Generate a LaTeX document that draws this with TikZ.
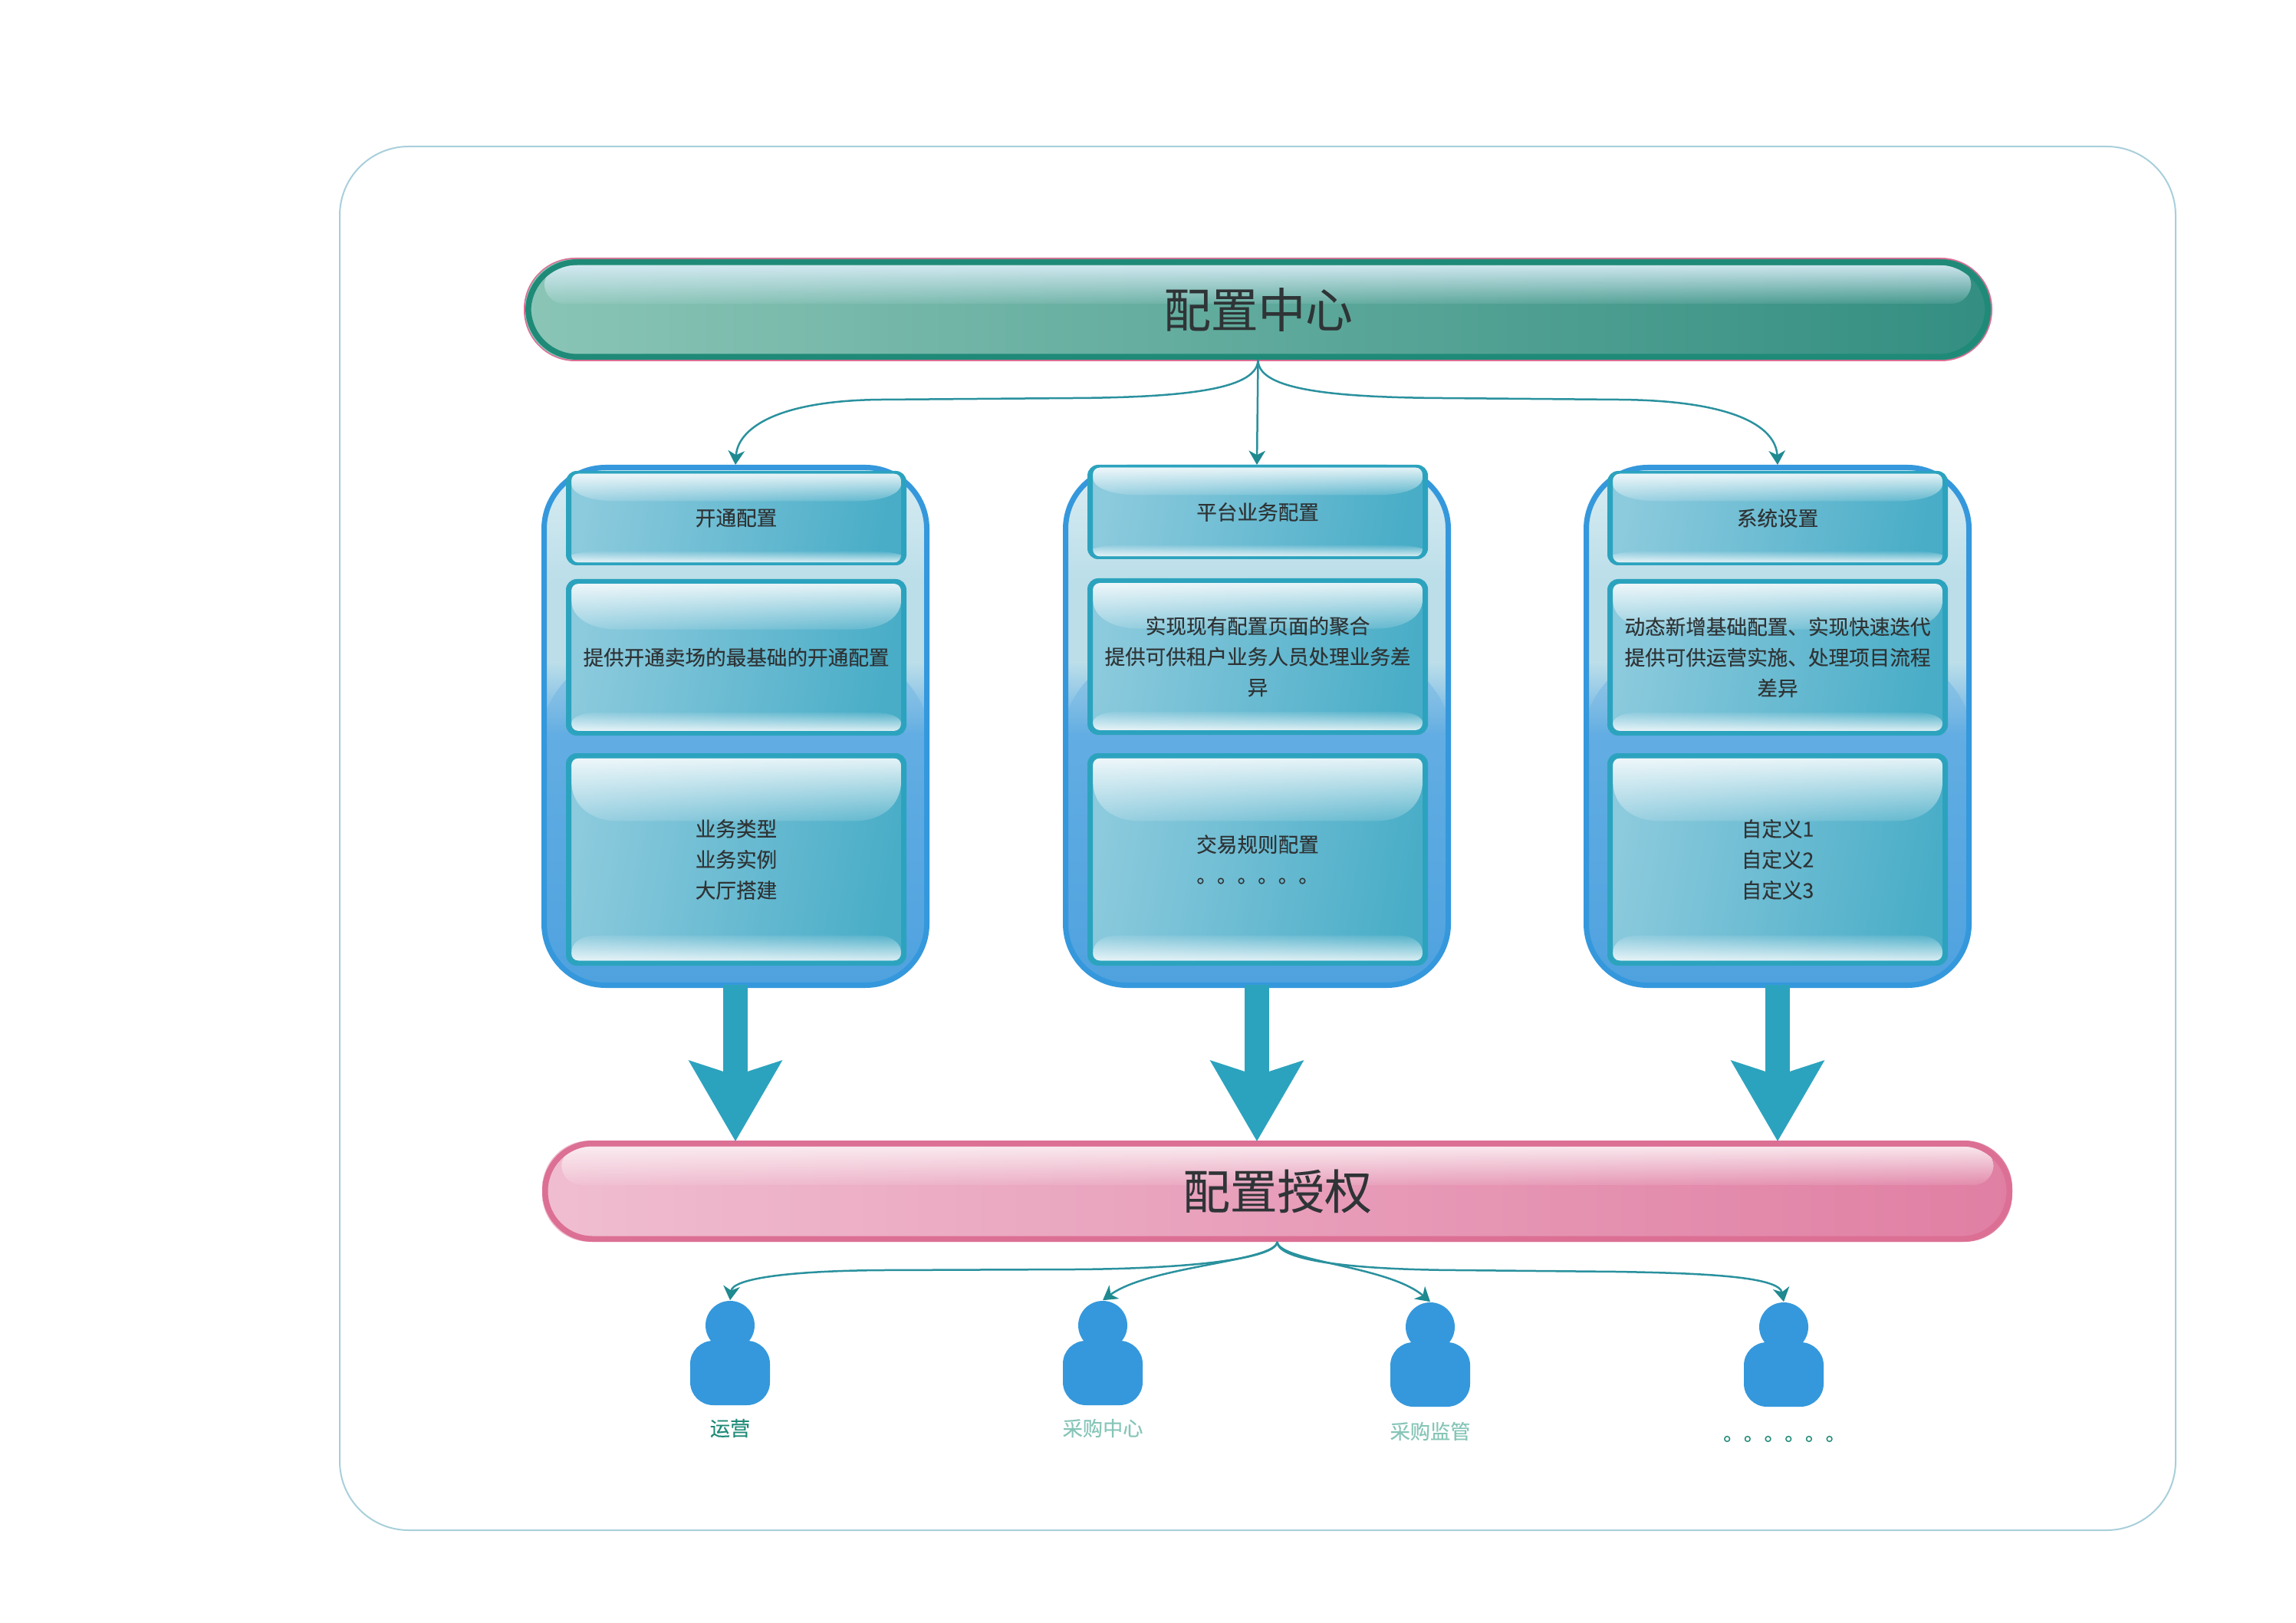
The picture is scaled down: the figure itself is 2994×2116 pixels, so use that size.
\documentclass[tikz,border=0pt]{standalone}
\usepackage{fontspec}
\setmainfont{Noto Sans CJK SC}
\newfontfamily\boxfont[FakeBold=0.2]{Noto Sans CJK SC}
\newfontfamily\titlefont[FakeBold=0.12]{Noto Sans CJK SC}
\usetikzlibrary{arrows.meta,fadings}
\newdimen\pxu \pxu=0.25pt
\definecolor{textdark}{HTML}{2F3436}
\definecolor{framecol}{HTML}{A8CFDA}
\definecolor{boxstroke}{HTML}{2CA3BE}
\definecolor{boxleft}{HTML}{8CCADD}
\definecolor{boxright}{HTML}{49ADC7}
\definecolor{groupstroke}{HTML}{3598DC}
\definecolor{panelA}{HTML}{DAEDF3}
\definecolor{panelB}{HTML}{BBDEE9}
\definecolor{panelC}{HTML}{62ADE3}
\definecolor{panelD}{HTML}{4FA2DF}
\definecolor{linkcol}{HTML}{2A919E}
\definecolor{tipcol}{HTML}{1F8A90}
\definecolor{greenstroke}{HTML}{1F8A78}
\definecolor{greenleft}{HTML}{8AC5B6}
\definecolor{greenright}{HTML}{338E81}
\definecolor{pinkstroke}{HTML}{DC6F94}
\definecolor{pinkleft}{HTML}{F0BDD0}
\definecolor{pinkright}{HTML}{E07FA3}
\definecolor{softlabel}{HTML}{86C5B7}
\definecolor{glossblue}{HTML}{D8ECF6}
\definecolor{glosspink}{HTML}{FBEFF3}
\tikzfading[name=glossdown, top color=transparent!15, bottom color=transparent!88]
\tikzfading[name=glossup, bottom color=transparent!20, top color=transparent!92]
\tikzfading[name=barglossdown, top color=transparent!8, bottom color=transparent!90]
\tikzfading[name=arcdown, top color=transparent!45, bottom color=transparent!100]
\tikzset{
  frame/.style={draw=framecol,line width=2\pxu,rounded corners=90\pxu,inner sep=0pt},
  glass/.style={inner sep=0pt,align=center,text=textdark,font=\boxfont\fontsize{6.65pt}{10pt}\selectfont},
  glassfill/.style={left color=boxleft,right color=boxright,shading angle=80},
  grouppanel/.style={draw=groupstroke,line width=7\pxu,rounded corners=80\pxu,inner sep=0pt},
  barnode/.style={line width=7.5\pxu,inner sep=0pt,text=textdark,font=\titlefont\fontsize{15.4pt}{18pt}\selectfont},
  link/.style={draw=linkcol,line width=2.5\pxu,-{Stealth[length=4.6pt,width=5.4pt,inset=1.4pt,color=tipcol]}},
  bigarrow/.style={draw=boxstroke,line width=32\pxu,shorten <=-1pt,shorten >=-0.3pt,-{Stealth[length=26pt,width=29.5pt,inset=4.5pt]}},
  personhead/.style={circle,fill=groupstroke,inner sep=0pt,minimum size=64\pxu},
  personbody/.style={rectangle,fill=groupstroke,inner sep=0pt,minimum width=104\pxu,minimum height=84\pxu,rounded corners=30\pxu},
  personlabel/.style={inner sep=0pt,font=\boxfont\fontsize{6.55pt}{8pt}\selectfont},
}
% name, left, top, right, bottom (outer edges), vertical stroke thickness, text
\newcommand{\glassnode}[7]{%
  \pgfmathsetmacro{\il}{#2+7}\pgfmathsetmacro{\ir}{#4-7}%
  \pgfmathsetmacro{\it}{#3+#6}\pgfmathsetmacro{\ib}{#5-#6}%
  \pgfmathsetmacro{\iw}{\ir-\il}\pgfmathsetmacro{\ih}{\ib-\it}%
  \pgfmathsetmacro{\gt}{0.31*\ih}\pgfmathsetmacro{\gb}{0.125*\ih}\pgfmathsetmacro{\gba}{\ih-\gb}%
  \path[glassfill,rounded corners=14\pxu] (#2+2,#3+1) rectangle (#4-2,#5-1);
  \begin{scope}[shift={(\il,\it)}]
    \fill[white,path fading=glossdown]
      (0,9) .. controls (0,3) and (3,0) .. (9,0) -- (\iw-9,0)
      .. controls (\iw-3,0) and (\iw,3) .. (\iw,9)
      -- (\iw,\gt*0.35) .. controls (\iw,\gt*0.8) and (\iw-30,\gt) .. (\iw-60,\gt)
      -- (60,\gt) .. controls (30,\gt) and (0,\gt*0.8) .. (0,\gt*0.35) -- cycle;
    \fill[white,path fading=glossup]
      (0,\ih-10) .. controls (0,\gba+\gb*.3) and (12,\gba) .. (34,\gba)
      -- (\iw-34,\gba) .. controls (\iw-12,\gba) and (\iw,\gba+\gb*.3) .. (\iw,\ih-10)
      .. controls (\iw,\ih-3) and (\iw-3,\ih) .. (\iw-10,\ih)
      -- (10,\ih) .. controls (3,\ih) and (0,\ih-3) .. (0,\ih-10) -- cycle;
  \end{scope}
  \fill[boxstroke,even odd rule,rounded corners=14\pxu] (#2,#3) rectangle (#4,#5)
    [rounded corners=9\pxu] (\il,\it) rectangle (\ir,\ib);
  \node[glass,minimum width={(#4-#2)*\pxu},minimum height={(#5-#3)*\pxu}] (#1) at ({(#2+#4)/2},{(#3+#5)/2}) {#7};}
% name, left, top, right, bottom (outer edges)
\newcommand{\panelnode}[5]{%
  \begin{scope}
    \clip[rounded corners=80\pxu] (#2+2,#3+2) rectangle (#4-2,#5-2);
    \shade[top color=panelA,bottom color=panelB] (#2,#3) rectangle (#4,#3+152);
    \fill[panelB] (#2,#3+150) rectangle (#4,#3+260);
    \shade[top color=panelB,bottom color=panelC] (#2,#3+258) rectangle (#4,#3+352);
    \shade[top color=panelC,bottom color=panelD] (#2,#3+350) rectangle (#4,#5);
    \fill[panelC,path fading=arcdown]
      (#2,#3+345) .. controls (#2+6,#3+310) and (#2+22,#3+285) .. (#2+60,#3+255) -- (#4-60,#3+255)
      .. controls (#4-22,#3+285) and (#4-6,#3+310) .. (#4,#3+345) -- (#4,#3+380) -- (#2,#3+380) -- cycle;
  \end{scope}
  \node[grouppanel,minimum width={(#4-#2-7)*\pxu},minimum height={(#5-#3-7)*\pxu}] (#1) at ({(#2+#4)/2},{(#3+#5)/2}) {};}
% name, left, top, right, bottom, radius, left colour, right colour, stroke; the node's text follows the call; \barglosscol sets the gloss
\newcommand{\barbase}[9]{%
  \path[left color=#7,right color=#8,rounded corners=#6\pxu] (#2,#3) rectangle (#4,#5);
  \fill[\barglosscol,rounded corners=26\pxu,path fading=barglossdown] (#2+25,#3+8) rectangle (#4-25,#3+58);
  \node[barnode,draw=#9,rounded corners=#6\pxu,minimum width={(#4-#2-7.5)*\pxu},minimum height={(#5-#3-7.5)*\pxu}] (#1) at ({(#2+#4)/2},{(#3+#5)/2})}
\begin{document}
\begin{tikzpicture}[x=0.25pt,y=-0.25pt]
\useasboundingbox (0,0) rectangle (2994,2116);
\node[frame,minimum width=2394\pxu,minimum height=1804\pxu] (outer) at (1640,1093) {};

% top bar
\fill[pinkstroke,rounded corners=67\pxu] (683,336) rectangle (2598,471);
\def\barglosscol{glossblue}
\barbase{center}{685}{338}{2596}{469}{64}{greenleft}{greenright}{greenstroke} {配置中心};

% panels
\panelnode{g1}{706}{606}{1212}{1288}
\panelnode{g2}{1386}{606}{1892}{1288}
\panelnode{g3}{2065}{606}{2571}{1288}

\glassnode{a1}{738}{614}{1182}{737}{3.5}{开通配置}
\glassnode{a2}{738}{755}{1182}{959}{6}{提供开通卖场的最基础的开通配置}
\glassnode{a3}{738}{982}{1182}{1259}{6.5}{业务类型\\业务实例\\大厅搭建}

\glassnode{b1}{1418}{606}{1862}{729}{3.5}{平台业务配置}
\glassnode{b2}{1418}{754}{1862}{958}{6}{实现现有配置页面的聚合\\提供可供租户业务人员处理业务差\\异}
\glassnode{b3}{1418}{982}{1862}{1259}{6.5}{交易规则配置\\。。。。。。}

\glassnode{c1}{2096}{614}{2540}{737}{3.5}{系统设置}
\glassnode{c2}{2096}{755}{2540}{959}{6}{动态新增基础配置、实现快速迭代\\提供可供运营实施、处理项目流程\\差异}
\glassnode{c3}{2096}{982}{2540}{1259}{6.5}{自定义1\\自定义2\\自定义3}

% bottom bar
\def\barglosscol{glosspink}
\barbase{auth}{707}{1487}{2624}{1619}{62}{pinkleft}{pinkright}{pinkstroke} {配置授权};

% thick arrows
\draw[bigarrow] (g1.south) -- (g1.south |- auth.north);
\draw[bigarrow] (g2.south) -- (g2.south |- auth.north);
\draw[bigarrow] (g3.south) -- (g3.south |- auth.north);

% upper connectors
\coordinate (topsrc) at (center.south);
\coordinate (authsrc) at (auth.south);
\draw[link] (topsrc) .. controls (1640,505) and (1560,518) .. (1400,519) -- (1150,521) .. controls (1010,522) and (962,560) .. (g1.north);
\draw[link] (topsrc) -- (g2.north);
\draw[link] (topsrc) .. controls (1640,505) and (1720,518) .. (1880,519) -- (2110,521) .. controls (2270,522) and (2316,560) .. (g3.north);

% people
\node[personbody] (b1p) at (952,1790) {};
\node[personhead] (p1) at (952,1728) {};
\node[personbody] (b2p) at (1438,1790) {};
\node[personhead] (p2) at (1438,1728) {};
\node[personbody] (b3p) at (1865,1792) {};
\node[personhead] (p3) at (1865,1730) {};
\node[personbody] (b4p) at (2326,1792) {};
\node[personhead] (p4) at (2326,1730) {};
\node[personlabel,text=greenstroke] (l1) at (952,1862) {运营};
\node[personlabel,text=softlabel] (l2) at (1438,1862) {采购中心};
\node[personlabel,text=softlabel] (l3) at (1865,1866) {采购监管};
\node[personlabel,text=greenstroke,font=\boxfont\fontsize{6.67pt}{8pt}\selectfont] (l4) at (2327,1876) {。。。。。。};

% lower connectors
\draw[link] (authsrc) .. controls (1665,1640) and (1560,1654) .. (1400,1655) -- (1150,1656) .. controls (1020,1657) and (955,1668) .. (p1.north);
\draw[link] (authsrc) .. controls (1663,1645) and (1500,1650) .. (p2.north);
\draw[link] (authsrc) .. controls (1668,1645) and (1810,1650) .. (p3.north);
\draw[link] (authsrc) .. controls (1665,1640) and (1740,1655) .. (1900,1656) -- (2108,1658) .. controls (2230,1660) and (2320,1665) .. (p4.north);
\end{tikzpicture}
\end{document}
